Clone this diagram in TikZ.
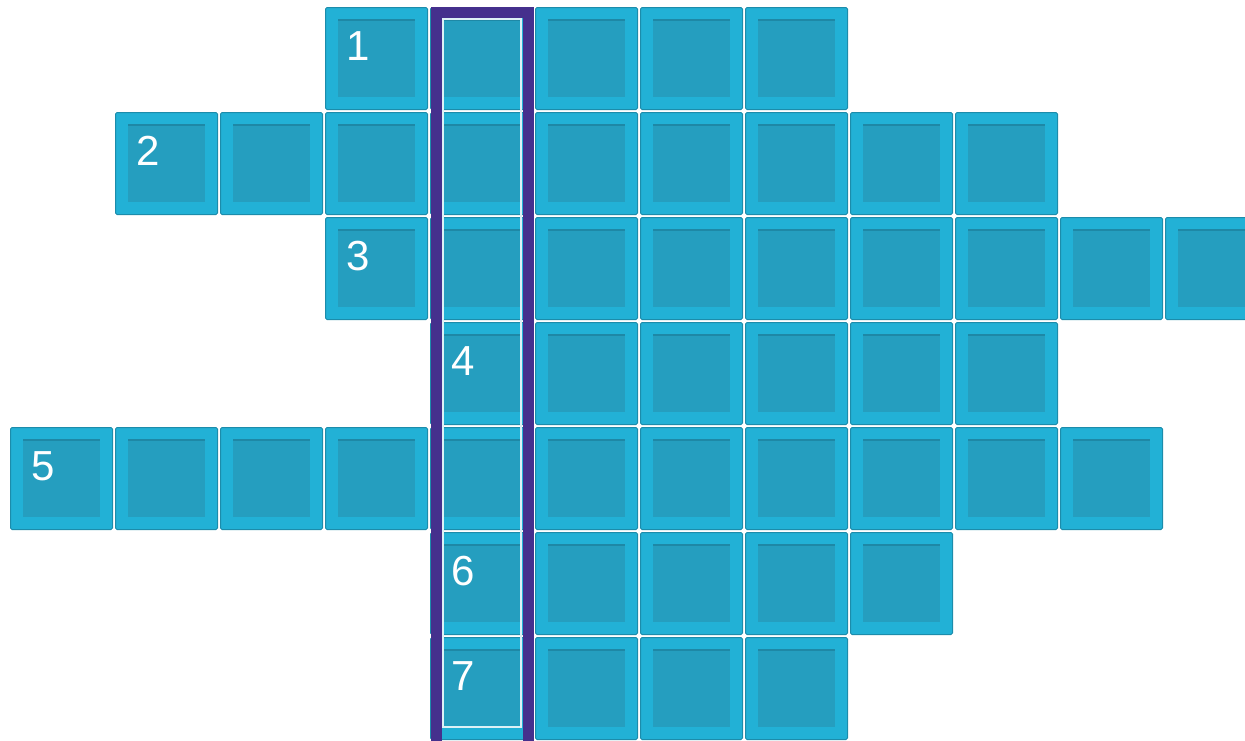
\documentclass[tikz,border=0pt]{standalone}
\usepackage{fontspec}
\setmainfont{Liberation Sans}
\definecolor{cellfill}{HTML}{22B1D6}
\definecolor{cellline}{HTML}{1C8CAB}
\definecolor{innerfill}{HTML}{259EBF}
\definecolor{innertop}{HTML}{1E88A6}
\definecolor{hl}{HTML}{45308D}
\definecolor{hlinner}{HTML}{DDF1F6}
\tikzset{
 cell/.style={draw=cellline, fill=cellfill, line width=1pt, rounded corners=1.5pt, minimum width=102pt, minimum height=102pt, inner sep=0pt, outer sep=0pt},
 innersq/.style={fill=innerfill, minimum width=77pt, minimum height=77pt, inner sep=0pt, outer sep=0pt},
 num/.style={text=white, font=\fontsize{42}{42}\selectfont, anchor=base west, inner sep=0pt},
}
\begin{document}
\begin{tikzpicture}[x=1pt,y=-1pt]
\useasboundingbox (0,0) rectangle (1245,740);
\clip (0,0) rectangle (1245,740);
\foreach \r/\cols in {0/{3,4,5,6,7}, 1/{1,2,3,4,5,6,7,8,9}, 2/{3,4,5,6,7,8,9,10,11}, 3/{4,5,6,7,8,9}, 4/{0,1,2,3,4,5,6,7,8,9,10}, 5/{4,5,6,7,8}, 6/{4,5,6,7}} {
  \foreach \c in \cols {
    \node[cell] (n\c-\r) at ({10+105*\c+51.5},{7+105*\r+51.5}) {};
    \node[innersq] (i\c-\r) at (n\c-\r) {};
    \draw[innertop, line width=1.2pt] (i\c-\r.north west) -- (i\c-\r.north east);
  }
}
\node[num] (l1) at ([xshift=21pt,yshift=-53pt]n3-0.north west) {1};
\node[num] (l2) at ([xshift=21pt,yshift=-53pt]n1-1.north west) {2};
\node[num] (l3) at ([xshift=21pt,yshift=-53pt]n3-2.north west) {3};
\node[num] (l4) at ([xshift=21pt,yshift=-53pt]n4-3.north west) {4};
\node[num] (l5) at ([xshift=21pt,yshift=-53pt]n0-4.north west) {5};
\node[num] (l6) at ([xshift=21pt,yshift=-53pt]n4-5.north west) {6};
\node[num] (l7) at ([xshift=21pt,yshift=-53pt]n4-6.north west) {7};
\draw[hl, line width=11pt] (436.5,12.5) rectangle (528.5,760);
\draw[hlinner, line width=1.6pt] (442.8,18.8) rectangle (521.2,727.2);
\end{tikzpicture}
\end{document}
